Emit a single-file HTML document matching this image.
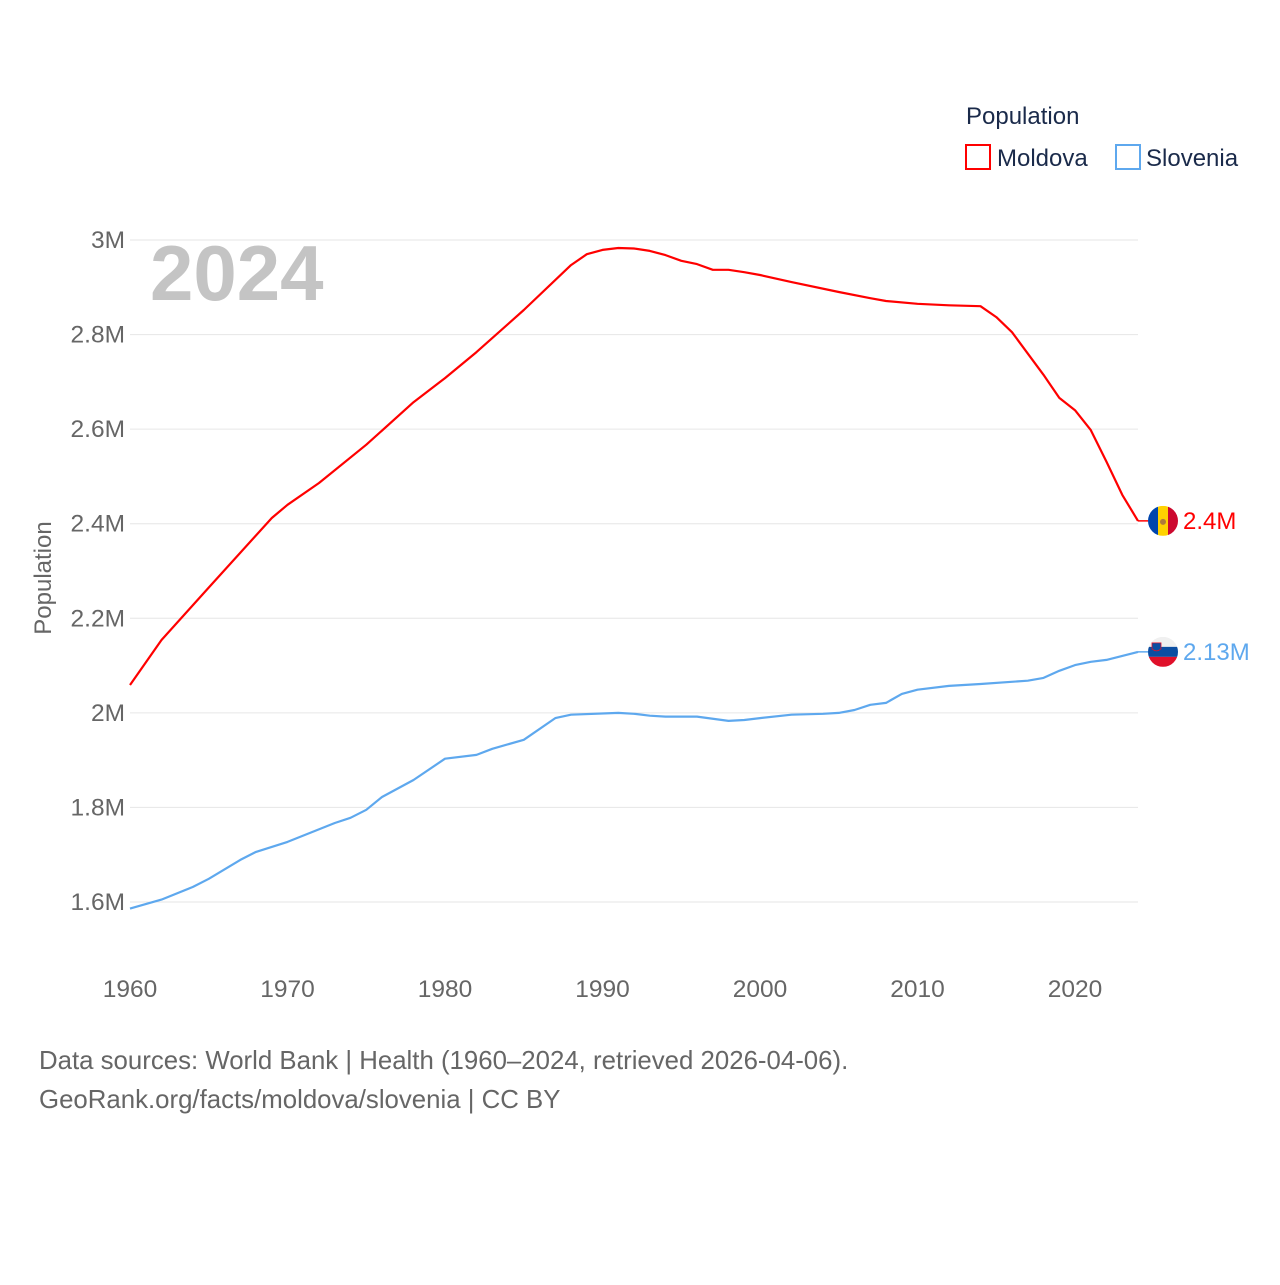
<!DOCTYPE html>
<html><head><meta charset="utf-8"><style>
body{margin:0;background:#fff;font-family:"Liberation Sans",sans-serif}
svg text{font-family:"Liberation Sans",sans-serif}
</style></head><body>
<svg id="c" width="1280" height="1280"></svg>
<script>
const yearsM=[1960,1962,1965,1969,1970,1972,1975,1978,1980,1982,1985,1988,1989,1990,1991,1992,1993,1994,1995,1996,1997,1998,1999,2000,2002,2005,2007,2008,2010,2012,2014,2015,2016,2018,2019,2020,2021,2022,2023,2024];
const moldova=[2.059,2.154,2.265,2.412,2.44,2.486,2.567,2.657,2.708,2.763,2.852,2.947,2.97,2.979,2.983,2.982,2.977,2.968,2.956,2.949,2.937,2.937,2.932,2.926,2.911,2.89,2.877,2.871,2.865,2.862,2.86,2.837,2.805,2.715,2.666,2.64,2.598,2.531,2.461,2.406];
const yearsS=[1960,1962,1964,1965,1967,1968,1970,1973,1974,1975,1976,1978,1980,1982,1983,1985,1987,1988,1991,1992,1993,1994,1996,1998,1999,2000,2002,2004,2005,2006,2007,2008,2009,2010,2012,2014,2017,2018,2019,2020,2021,2022,2024];
const slovenia=[1.586,1.605,1.632,1.649,1.689,1.706,1.727,1.767,1.778,1.795,1.822,1.858,1.903,1.911,1.924,1.943,1.989,1.996,2.0,1.998,1.994,1.992,1.992,1.983,1.985,1.989,1.996,1.998,2.0,2.006,2.017,2.021,2.04,2.049,2.057,2.061,2.068,2.074,2.089,2.101,2.108,2.112,2.129];
const yTicks=[1.6,1.8,2.0,2.2,2.4,2.6,2.8,3.0];
const yTickLabels=["1.6M","1.8M","2M","2.2M","2.4M","2.6M","2.8M","3M"];
const xTicks=[1960,1970,1980,1990,2000,2010,2020];

const NS="http://www.w3.org/2000/svg";
const svg=document.getElementById('c');
const X=y=>130+(y-1960)*(1138-130)/64;
const Y=v=>902-(v-1.6)*(902-240)/1.4;
function el(t,a,txt){const e=document.createElementNS(NS,t);for(const k in a)e.setAttribute(k,a[k]);if(txt!=null)e.textContent=txt;svg.appendChild(e);return e;}

yTicks.forEach((v,i)=>{
  const g=el('line',{x1:130,x2:1138,y1:Y(v),y2:Y(v),stroke:'#e6e6e6','stroke-width':1});
  
  
  const t=el('text',{x:125,y:Y(v)+8,'text-anchor':'end','font-size':24.5,fill:'#666'},yTickLabels[i]);
  
  
});
xTicks.forEach(v=>{
  const t=el('text',{x:X(v),y:997,'text-anchor':'middle','font-size':24.5,fill:'#666'},String(v));
  
  
});
const yt=el('text',{x:0,y:0,transform:'translate(51,578) rotate(-90)','text-anchor':'middle','font-size':24,fill:'#666'},'Population');


const yr=el('text',{x:150,y:300,'font-size':78,'font-weight':'bold',fill:'#c4c4c4'},'2024');



function line(years,vals,col,name){
  const d=years.map((y,i)=>(i?'L':'M')+X(y).toFixed(1)+','+Y(vals[i]).toFixed(1)).join('');
  const p=el('path',{d:d,fill:'none',stroke:col,'stroke-width':2.2,'stroke-linejoin':'round'});
  
  
}
line(yearsM,moldova,'#ff0000','moldova-line');
line(yearsS,slovenia,'#5ea8ee','slovenia-line');

const mv=moldova[moldova.length-1], sv=slovenia[slovenia.length-1];
const my=Y(mv), sy=Y(sv);
let e;
e=el('line',{x1:1138,x2:1148,y1:my,y2:my,stroke:'#ff0000','stroke-width':1.5});
e=el('line',{x1:1138,x2:1148,y1:sy,y2:sy,stroke:'#5ea8ee','stroke-width':1.5});
const defs=el('defs',{});
defs.innerHTML='<clipPath id="cm"><circle cx="1163" cy="'+my+'" r="15"/></clipPath><clipPath id="cs"><circle cx="1163" cy="'+sy+'" r="15"/></clipPath>';
const fm=el('g',{'clip-path':'url(#cm)'});


fm.innerHTML='<rect x="1148" y="'+(my-15)+'" width="10" height="30" fill="#0046ae"/><rect x="1158" y="'+(my-15)+'" width="10" height="30" fill="#ffd200"/><rect x="1168" y="'+(my-15)+'" width="10" height="30" fill="#cc092f"/><circle cx="1163" cy="'+(my+1)+'" r="3" fill="#b07a3a"/>';
const fs=el('g',{'clip-path':'url(#cs)'});


fs.innerHTML='<rect x="1148" y="'+(sy-15)+'" width="30" height="10" fill="#f0f0f0"/><rect x="1148" y="'+(sy-5)+'" width="30" height="10" fill="#0b4ea2"/><rect x="1148" y="'+(sy+5)+'" width="30" height="10" fill="#e0102a"/><path d="M1152,'+(sy-9)+' h9 v6 q-4.5,4 -9,0z" fill="#0b4ea2" stroke="#e0102a" stroke-width="0.8"/>';
e=el('text',{x:1183,y:my+8,'font-size':24,fill:'#ff0000'},'2.4M');


e=el('text',{x:1183,y:sy+8,'font-size':24,fill:'#5ea8ee'},'2.13M');



e=el('text',{x:966,y:124,'font-size':24,fill:'#1a2a4a'},'Population');


e=el('rect',{x:966,y:145,width:24,height:24,fill:'none',stroke:'#ff0000','stroke-width':2});


e=el('text',{x:997,y:166,'font-size':24,fill:'#1a2a4a'},'Moldova');


e=el('rect',{x:1116,y:145,width:24,height:24,fill:'none',stroke:'#5ea8ee','stroke-width':2});


e=el('text',{x:1146,y:166,'font-size':24,fill:'#1a2a4a'},'Slovenia');



e=el('text',{x:39,y:1069,'font-size':25.8,fill:'#666'},'Data sources: World Bank | Health (1960–2024, retrieved 2026-04-06).');


e=el('text',{x:39,y:1108,'font-size':25.8,fill:'#666'},'GeoRank.org/facts/moldova/slovenia | CC BY');


</script>
</body></html>
